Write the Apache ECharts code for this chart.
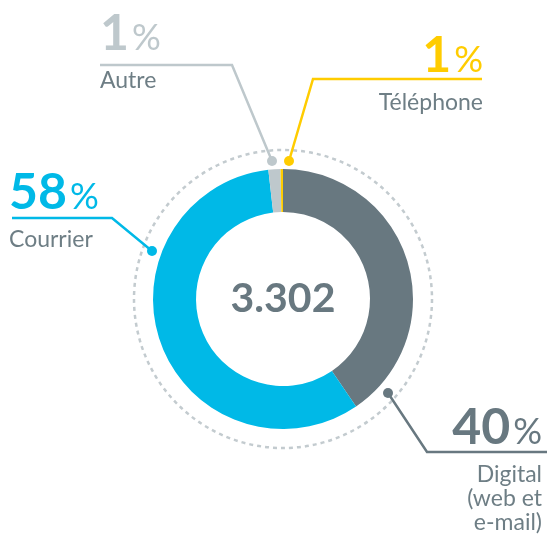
<!DOCTYPE html>
<html>
<head>
<meta charset="utf-8">
<script src="https://cdn.jsdelivr.net/npm/echarts@6/dist/echarts.min.js"></script>
<style>
  html, body { margin: 0; padding: 0; background: #fff; }
  #pieChart { width: 547px; height: 536px; }
</style>
</head>
<body>
<div id="pieChart"></div>
<script>
// données (sens horaire depuis midi)
var names = ['Digital\n(web et\ne-mail)', 'Courrier', 'Autre', 'Téléphone'];
var values = [40.5, 57.7, 1.5, 0.3];
var pctLabels = ['40', '58', '1', '1'];
var totalLabel = '3.302';

var colors = ['#687880', '#00b9e7', '#bec8cc', '#ffcc00'];
var textGray = '#6e7e85';

// placement des étiquettes : point, coude, fin du trait, x du texte
var callouts = [
    { dot: [388, 393], elbow: [427, 452], end: [547, 452], x: 542, align: 'right', base: 442 },
    { dot: [152, 251], elbow: [112, 218], end: [12, 218], x: 9, align: 'left', base: 207 },
    { dot: [272, 161], elbow: [232, 65], end: [100, 65], x: 100, align: 'left', base: 48 },
    { dot: [289, 161], elbow: [313, 79], end: [482, 79], x: 483, align: 'right', base: 70 }
];
var cx = 283, cy = 299;
var font = 'Lato';

var myChart = echarts.init(document.getElementById('pieChart'));

var data = names.map(function (n, i) {
    return { name: n, value: values[i], itemStyle: { color: colors[i] } };
});

var rich = {};
colors.forEach(function (c, i) {
    rich['n' + i] = { fontFamily: font, fontSize: 50, fontWeight: 'bold', color: c, lineHeight: 56, verticalAlign: 'bottom' };
    rich['p' + i] = { fontFamily: font, fontSize: 36, color: c, lineHeight: 56, verticalAlign: 'bottom', padding: [0, 0, 3, 3] };
});
rich.name = { fontFamily: font, fontSize: 23, color: textGray, lineHeight: 33, verticalAlign: 'bottom' };
rich.sub = { fontFamily: font, fontSize: 23, color: textGray, lineHeight: 24, verticalAlign: 'bottom' };

myChart.setOption({
    animation: false,
    graphic: [
        {
            type: 'circle', z: 1, silent: true,
            shape: { cx: cx, cy: cy, r: 149 },
            style: { fill: 'none', stroke: '#c3cbcf', lineWidth: 2.5, lineDash: [4, 4] }
        },
        {
            type: 'text', z: 10, silent: true,
            x: cx, y: cy,
            style: {
                text: totalLabel, fill: '#687880', align: 'center', verticalAlign: 'middle',
                font: 'bold 41px Lato'
            }
        }
    ].concat(callouts.map(function (c, i) {
        return {
            type: 'circle', z: 20, silent: true,
            shape: { cx: c.dot[0], cy: c.dot[1], r: 5 },
            style: { fill: colors[i] }
        };
    })),
    series: [{
        type: 'pie',
        center: [cx, cy],
        radius: [87, 130],
        startAngle: 90,
        clockwise: true,
        avoidLabelOverlap: false,
        silent: true,
        data: data,
        label: {
            show: true,
            formatter: function (p) {
                var i = p.dataIndex;
                var lines = p.name.split('\n');
                var s = '{n' + i + '|' + pctLabels[i] + '}{p' + i + '|%}\n{name|' + lines[0] + '}';
                for (var k = 1; k < lines.length; k++) {
                    s += '\n{sub|' + lines[k] + '}';
                }
                return s;
            },
            rich: rich
        },
        labelLine: {
            show: true,
            lineStyle: { width: 2.5 }
        },
        labelLayout: function (params) {
            var c = callouts[params.dataIndex];
            return {
                x: c.x,
                y: c.base - 45,
                align: c.align,
                verticalAlign: 'top',
                labelLinePoints: [c.dot, c.elbow, c.end]
            };
        }
    }]
});
</script>
</body>
</html>
